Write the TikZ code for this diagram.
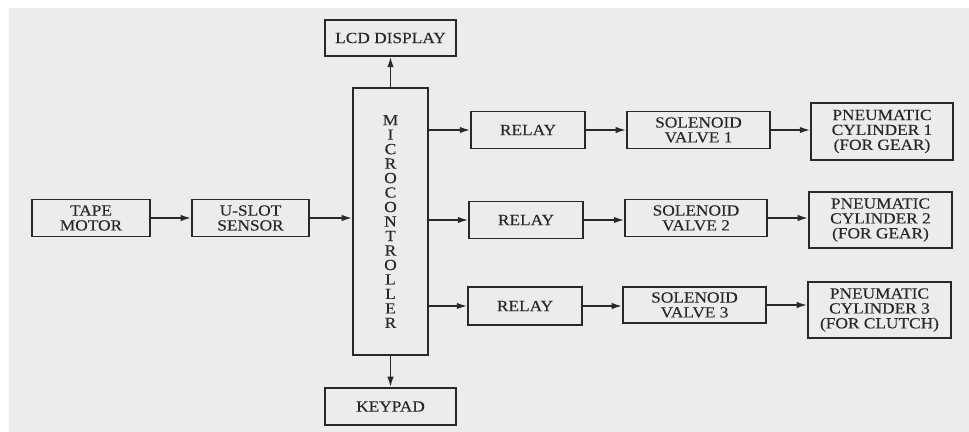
\documentclass[tikz,border=0pt]{standalone}
\usepackage{fontspec}
\setmainfont[FakeStretch=1.12, FakeBold=0.2]{Liberation Serif}
\usetikzlibrary{arrows.meta}
\definecolor{panel}{RGB}{238,236,234}
\definecolor{ink}{RGB}{40,40,40}

\begin{document}
\begin{tikzpicture}[x=0.025cm, y=-0.025cm, >={Latex[length=2.6mm,width=1.6mm]},
	every node/.style={font=\fontsize{11}{10.6}\selectfont, text=ink, align=center},
	box/.style={draw=ink, line width=1.1pt, inner sep=1pt},
	link/.style={->, draw=ink, line width=1.1pt}]
	\useasboundingbox (0,0) rectangle (969,432);
	\fill[panel] (9,8) rectangle (969,432);
	\node[box, minimum width=2.95cm, minimum height=0.93cm] (tape) at (91,218) {TAPE\\MOTOR};
	\node[box, minimum width=2.93cm, minimum height=0.93cm] (uslot) at (250.5,218) {U-SLOT\\SENSOR};
	\node[box, minimum width=1.88cm, minimum height=6.68cm, font=\fontsize{11}{10.3}\selectfont] (micro) at (390.5,221.5) {M\\I\\C\\R\\O\\C\\O\\N\\T\\R\\O\\L\\L\\E\\R};
	\node[box, minimum width=3.28cm, minimum height=0.9cm] (lcd) at (390.5,38) {LCD DISPLAY};
	\node[box, minimum width=3.28cm, minimum height=0.93cm] (keypad) at (390.5,406.5) {KEYPAD};
	\node[box, minimum width=2.85cm, minimum height=0.93cm] (relayA) at (528,130) {RELAY};
	\node[box, minimum width=2.85cm, minimum height=0.93cm] (relayB) at (526,220) {RELAY};
	\node[box, minimum width=2.85cm, minimum height=0.95cm] (relayC) at (525,306) {RELAY};
	\node[box, minimum width=3.58cm, minimum height=0.93cm] (solA) at (698.5,130) {SOLENOID\\VALVE 1};
	\node[box, minimum width=3.55cm, minimum height=0.93cm] (solB) at (696,218) {SOLENOID\\VALVE 2};
	\node[box, minimum width=3.58cm, minimum height=0.9cm] (solC) at (694.5,305) {SOLENOID\\VALVE 3};
	\node[box, minimum width=3.55cm, minimum height=1.43cm] (pneuA) at (882,131.5) {PNEUMATIC\\CYLINDER 1\\(FOR GEAR)};
	\node[box, minimum width=3.58cm, minimum height=1.4cm] (pneuB) at (880.5,220) {PNEUMATIC\\CYLINDER 2\\(FOR GEAR)};
	\node[box, minimum width=3.58cm, minimum height=1.4cm] (pneuC) at (879.5,310) {PNEUMATIC\\CYLINDER 3\\(FOR CLUTCH)};
	\draw[link] (tape) -- (uslot);
	\draw[link] (uslot) -- (uslot -| micro.west);
	\draw[link] (micro) -- (lcd);
	\draw[link] (micro) -- (keypad);
	\draw[link] (micro.east |- relayA) -- (relayA);
	\draw[link] (micro.east |- relayB) -- (relayB);
	\draw[link] (micro.east |- relayC) -- (relayC);
	\draw[link] (relayA) -- (relayA -| solA.west);
	\draw[link] (relayB) -- (relayB -| solB.west);
	\draw[link] (relayC) -- (relayC -| solC.west);
	\draw[link] (solA) -- (solA -| pneuA.west);
	\draw[link] (solB) -- (solB -| pneuB.west);
	\draw[link] (solC) -- (solC -| pneuC.west);
\end{tikzpicture}
\end{document}
